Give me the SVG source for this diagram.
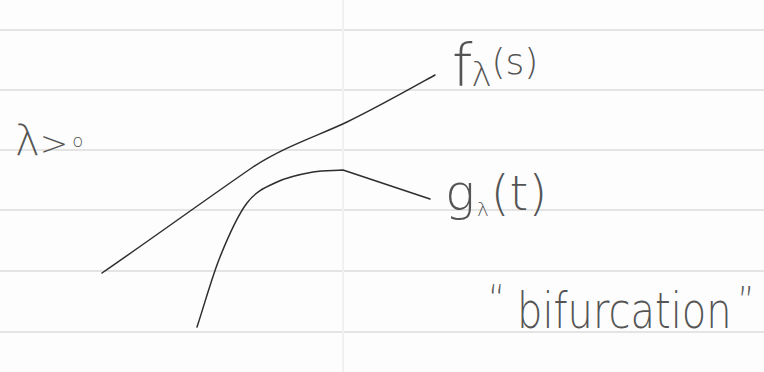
<svg xmlns="http://www.w3.org/2000/svg" width="764" height="372" viewBox="0 0 764 372">
  <style>
    .rule { stroke: #e4e4e4; stroke-width: 2; }
    .curve { fill: none; stroke: #2e2e2e; stroke-width: 1.5; stroke-linecap: round; stroke-linejoin: round; }
    .hand { font-family: "DejaVu Sans", "Liberation Sans", sans-serif; font-weight: 200; fill: #555555; }
  </style>
  <rect width="764" height="372" fill="#fdfdfd"/>
  <g id="paper">
    <line class="rule" x1="0" y1="30" x2="764" y2="30"/>
    <line class="rule" x1="0" y1="90" x2="764" y2="90"/>
    <line class="rule" x1="0" y1="150" x2="764" y2="150"/>
    <line class="rule" x1="0" y1="210" x2="764" y2="210"/>
    <line class="rule" x1="0" y1="271" x2="764" y2="271"/>
    <line class="rule" x1="0" y1="332" x2="764" y2="332"/>
    <line x1="343" y1="0" x2="343" y2="372" stroke="#f1f1f1" stroke-width="2"/>
  </g>
  <g id="connectors">
    <path id="curve-f" class="curve" d="M102,273 C150,240 205,200 253,167 C285,146 320,135 347,122 C378,107 408,90 435,75"/>
    <path id="curve-g" class="curve" d="M197,327 C204.7,303.7 211.7,277.7 220,257 C228.3,236.3 237.5,215.5 247,203 C256.5,190.5 266,187.2 277,182 C288,176.8 302,174 313,172 C324,170 333,170.7 343,170 L430,199"/>
  </g>
  <g id="label-lambda">
    <text class="hand" x="15" y="155" font-size="42">λ<tspan font-size="34">&gt;</tspan><tspan font-size="18" dx="4" dy="-8">o</tspan></text>
  </g>
  <g id="label-f">
    <text class="hand" x="452" y="86" font-size="58">f<tspan font-size="34" dx="-1">λ</tspan><tspan font-size="36" dy="-12">(s)</tspan></text>
  </g>
  <g id="label-g">
    <text class="hand" x="445" y="210" font-size="50">g<tspan font-size="20" dx="2" dy="6">λ</tspan><tspan font-size="48" dx="2" dy="-6">(t)</tspan></text>
  </g>
  <g id="label-bifurcation">
    <text class="hand" transform="translate(517,328) scale(0.8,1)" x="-36" y="-14" font-size="40">“<tspan x="0" y="0" font-size="50">bifurcation</tspan><tspan x="276" y="-12">”</tspan></text>
  </g>
</svg>
